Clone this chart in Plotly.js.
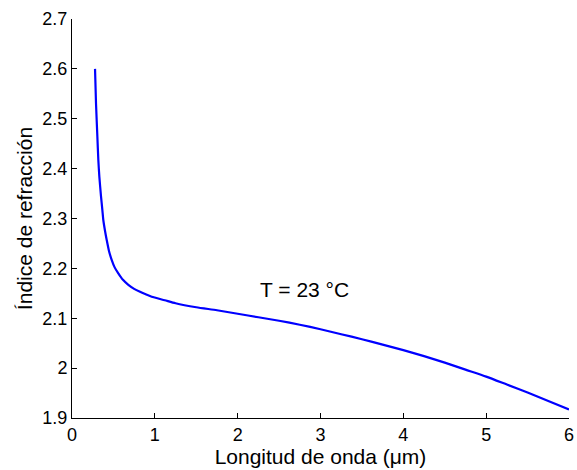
<!DOCTYPE html>
<html>
<head>
<meta charset="utf-8">
<script src="https://cdn.plot.ly/plotly-3.0.1.min.js"></script>
<style>html,body{margin:0;padding:0;background:#fff;}#chart{width:577px;height:470px;}</style>
</head>
<body>
<div id="chart"></div>
<script>
// Wavelength (µm) and refractive index
const wavelength = [0.278, 0.290, 0.306, 0.318, 0.330, 0.350, 0.366, 0.378, 0.400, 0.419, 0.445, 0.479, 0.515, 0.559, 0.615, 0.680, 0.750, 0.821, 0.890, 0.962, 1.12, 1.25, 1.5, 1.75, 2.0, 2.25, 2.5, 2.75, 3.0, 3.25, 3.5, 3.75, 4.0, 4.25, 4.5, 4.75, 5.0, 5.25, 5.5, 5.75, 6.0];
const refIndex   = [2.600, 2.530, 2.465, 2.417, 2.384, 2.345, 2.318, 2.297, 2.274, 2.257, 2.236, 2.217, 2.202, 2.190, 2.177, 2.167, 2.159, 2.153, 2.148, 2.143, 2.136, 2.130, 2.122, 2.116, 2.109, 2.102, 2.095, 2.087, 2.078, 2.068, 2.058, 2.047, 2.036, 2.024, 2.011, 1.997, 1.983, 1.967, 1.951, 1.934, 1.917];
const xTickVals = [0, 1, 2, 3, 4, 5, 6];
const xTickText = ["0", "1", "2", "3", "4", "5", "6"];
const yTickVals = [1.9, 2.0, 2.1, 2.2, 2.3, 2.4, 2.5, 2.6, 2.7];
const yTickText = ["1.9", "2", "2.1", "2.2", "2.3", "2.4", "2.5", "2.6", "2.7"];
const annotationText = "T = 23 °C";
const xTitle = "Longitud de onda (μm)";
const yTitle = "Índice de refracción";

const FONT = "'Liberation Sans', Arial, Helvetica, sans-serif";

const trace = {
  x: wavelength, y: refIndex, type: 'scatter', mode: 'lines',
  line: {color: '#0000ff', width: 2.2, shape: 'spline', smoothing: 0.6}, hoverinfo: 'skip'
};

const axisCommon = {
  showline: true, linecolor: '#000', linewidth: 1, mirror: false,
  ticks: 'inside', ticklen: 5, tickcolor: '#000', tickwidth: 1,
  showgrid: false, zeroline: false, tickmode: 'array',
  tickfont: {family: FONT, size: 18, color: '#000'}
};

const layout = {
  width: 577, height: 470,
  margin: {l: 72, r: 8, t: 19, b: 52, pad: 0},
  paper_bgcolor: '#fff', plot_bgcolor: '#fff',
  showlegend: false,
  font: {family: FONT, color: '#000'},
  xaxis: Object.assign({}, axisCommon, {
    range: [0, 6], tickvals: xTickVals, ticktext: xTickText,
    title: {text: xTitle, font: {family: FONT, size: 21, color: '#000'}, standoff: 2}
  }),
  yaxis: Object.assign({}, axisCommon, {
    range: [1.9, 2.7], tickvals: yTickVals, ticktext: yTickText,
    title: {text: yTitle, font: {family: FONT, size: 21, color: '#000'}, standoff: 4}
  }),
  annotations: [{
    x: 2.81, y: 2.157, xref: 'x', yref: 'y', text: annotationText, showarrow: false,
    font: {family: FONT, size: 21, color: '#000'}
  }]
};

Plotly.newPlot('chart', [trace], layout, {staticPlot: true, displayModeBar: false});
</script>
</body>
</html>
